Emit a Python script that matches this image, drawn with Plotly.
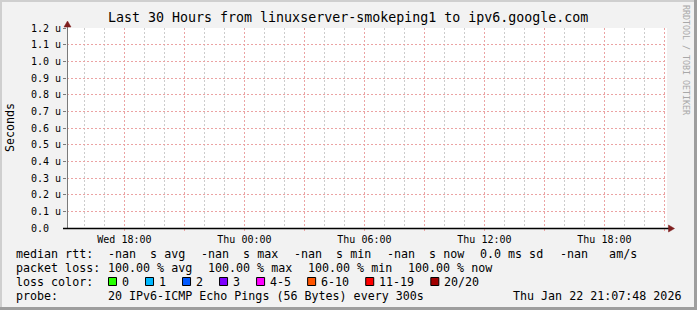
import plotly.graph_objects as go

# ---------------- data ----------------
title_text = "Last 30 Hours from linuxserver-smokeping1 to ipv6.google.com"
y_title = "Seconds"
t_start = "2026-01-21 15:07:48"
t_end = "2026-01-22 21:07:48"

# median rtt samples (no replies received -> all missing)
sample_times = [t_start, t_end]
median_rtt = [None, None]

x_tickvals = ["2026-01-21 18:00", "2026-01-21 21:00", "2026-01-22 00:00",
              "2026-01-22 03:00", "2026-01-22 06:00", "2026-01-22 09:00",
              "2026-01-22 12:00", "2026-01-22 15:00", "2026-01-22 18:00",
              "2026-01-22 21:00"]
x_ticktext = ["Wed 18:00", "", "Thu 00:00", "", "Thu 06:00", "",
              "Thu 12:00", "", "Thu 18:00", ""]

y_tickvals = [0.0, 0.1, 0.2, 0.3, 0.4, 0.5, 0.6, 0.7, 0.8, 0.9, 1.0, 1.1, 1.2]
y_ticktext = ["0.0\u00a0\u00a0", "0.1\u00a0u", "0.2\u00a0u", "0.3\u00a0u",
              "0.4\u00a0u", "0.5\u00a0u", "0.6\u00a0u", "0.7\u00a0u",
              "0.8\u00a0u", "0.9\u00a0u", "1.0\u00a0u", "1.1\u00a0u", "1.2\u00a0u"]

rtt_stat_names = ["avg", "max", "min", "now"]
rtt_stat_values = ["-nan", "-nan", "-nan", "-nan"]
rtt_sd = "0.0 ms"
rtt_ams = "-nan"

loss_stat_names = ["avg", "max", "min", "now"]
loss_stat_values = [100.00, 100.00, 100.00, 100.00]

loss_color_labels = ["0", "1", "2", "3", "4-5", "6-10", "11-19", "20/20"]
loss_colors = ["#26ff00", "#00b8ff", "#0059ff", "#7e00ff", "#ff00ff",
               "#ff5500", "#ff0000", "#a10000"]

probe_text = "20 IPv6-ICMP Echo Pings (56 Bytes) every 300s"
timestamp_text = "Thu Jan 22 21:07:48 2026"
watermark = "RRDTOOL / TOBI OETIKER"

# ---------------- layout constants ----------------
W, H = 697, 310
PL, PR, PT, PB = 67, 667, 28, 228  # plot area in pixels
MONO = "DejaVu Sans Mono"
FS = 11.67
CW = 7.02


def px(x):
    return (x - PL) / (PR - PL)


def py(y):
    return (PB - y) / (PB - PT)


fig = go.Figure()
fig.add_trace(go.Scatter(x=sample_times, y=median_rtt, mode="lines",
                         line=dict(color="#00aa00", width=1), showlegend=False,
                         hoverinfo="skip"))

annotations = []
shapes = []


def text(x, y, s, anchor="left", size=FS, color="#000000", angle=0):
    annotations.append(dict(x=px(x), y=py(y), xref="paper", yref="paper",
                            text=s, showarrow=False, xanchor=anchor,
                            yanchor="middle", textangle=angle,
                            borderpad=0, borderwidth=0,
                            font=dict(family=MONO, size=size, color=color)))


# title
text(348, 18, title_text, anchor="center", size=13.3)
# y axis title
text(10, 128, y_title, anchor="center", angle=-90)
# watermark
text(686, 60, watermark, anchor="center", size=8.3, color="#a8a8a8", angle=90)

X0 = 16
XV = 107.5
GAP = 16
# line 1: median rtt
y1 = 254
text(X0, y1, "median rtt:")
x = XV
for v, n in zip(rtt_stat_values, rtt_stat_names):
    seg = f"{v}  s {n}"
    text(x, y1, seg.replace(" ", "\u00a0"))
    x += len(seg) * CW + GAP
seg = f"{rtt_sd} sd"
text(x, y1, seg.replace(" ", "\u00a0"))
x += len(seg) * CW + GAP
seg = f"{rtt_ams}   am/s"
text(x, y1, seg.replace(" ", "\u00a0"))

# line 2: packet loss
y2 = 268
text(X0, y2, "packet loss:")
x = XV
for v, n in zip(loss_stat_values, loss_stat_names):
    seg = f"{v:.2f} % {n}"
    text(x, y2, seg.replace(" ", "\u00a0"))
    x += len(seg) * CW + GAP

# line 3: loss colors
y3 = 282
text(X0, y3, "loss color:")
x = 108
for lab, col in zip(loss_color_labels, loss_colors):
    shapes.append(dict(type="rect", xref="paper", yref="paper",
                       x0=px(x + 0.5), x1=px(x + 8.5), y0=py(285.5), y1=py(277.5),
                       fillcolor=col, line=dict(color="#000000", width=1)))
    text(x + 14, y3, lab)
    x += 30 + len(lab) * CW

# line 4: probe
y4 = 296
text(X0, y4, "probe:")
text(XV, y4, probe_text.replace(" ", "\u00a0"))
text(681, y4, timestamp_text.replace(" ", "\u00a0"), anchor="right")

# axes lines and arrows
shapes.append(dict(type="line", xref="paper", yref="paper",
                   x0=px(67.5), x1=px(67.5), y0=py(228), y1=py(25),
                   line=dict(color="#7a7a7a", width=1)))
shapes.append(dict(type="line", xref="paper", yref="paper",
                   x0=px(63), x1=px(669), y0=py(228.5), y1=py(228.5),
                   line=dict(color="#000000", width=1.6)))


def tri(pts, col):
    d = "M" + " L".join(f"{px(a)},{py(b)}" for a, b in pts) + " Z"
    shapes.append(dict(type="path", xref="paper", yref="paper", path=d,
                       fillcolor=col, line=dict(color=col, width=0.5)))


tri([(67.5, 21), (64, 27), (71, 27)], "#7f1f1f")
tri([(674.5, 228.5), (668.5, 225), (668.5, 232)], "#7f1f1f")

# frame (bevel)
shapes.append(dict(type="rect", xref="paper", yref="paper",
                   x0=px(0), x1=px(W), y0=py(0), y1=py(2),
                   fillcolor="#cfcfcf", line=dict(width=0), layer="below"))
shapes.append(dict(type="rect", xref="paper", yref="paper",
                   x0=px(0), x1=px(2), y0=py(0), y1=py(H),
                   fillcolor="#cfcfcf", line=dict(width=0), layer="below"))
shapes.append(dict(type="rect", xref="paper", yref="paper",
                   x0=px(0), x1=px(W), y0=py(H - 3), y1=py(H),
                   fillcolor="#9e9e9e", line=dict(width=0)))
shapes.append(dict(type="rect", xref="paper", yref="paper",
                   x0=px(W - 3), x1=px(W), y0=py(0), y1=py(H),
                   fillcolor="#9e9e9e", line=dict(width=0)))

major_grid = "#eba3a3"
minor_grid = "#cccccc"
DASH = "2px,2px"

fig.update_layout(
    width=W, height=H, autosize=False,
    margin=dict(l=PL, r=W - PR, t=PT, b=H - PB, pad=0),
    paper_bgcolor="#f2f2f2", plot_bgcolor="#ffffff",
    showlegend=False,
    annotations=annotations, shapes=shapes,
    xaxis=dict(type="date", range=[t_start, t_end], tickmode="array",
               tickvals=x_tickvals, ticktext=x_ticktext,
               showgrid=True, gridcolor=major_grid, gridwidth=1,
               griddash=DASH, zeroline=False, showline=False,
               ticks="outside", ticklen=2, tickcolor=major_grid,
               tickfont=dict(family=MONO, size=10, color="#000000"),
               minor=dict(tickmode="linear", dtick=3600000,
                          tick0="2026-01-21 00:00",
                          showgrid=True, gridcolor=minor_grid,
                          griddash=DASH, gridwidth=1),
               fixedrange=True),
    yaxis=dict(range=[0, 1.2], tickmode="array", tickvals=y_tickvals,
               ticktext=y_ticktext, showgrid=True, gridcolor=major_grid,
               gridwidth=1, griddash=DASH, zeroline=False,
               showline=False, ticks="outside", ticklen=3,
               tickcolor="#7a7a7a",
               tickfont=dict(family=MONO, size=10, color="#000000"),
               fixedrange=True),
)

fig.write_html("out.html")
